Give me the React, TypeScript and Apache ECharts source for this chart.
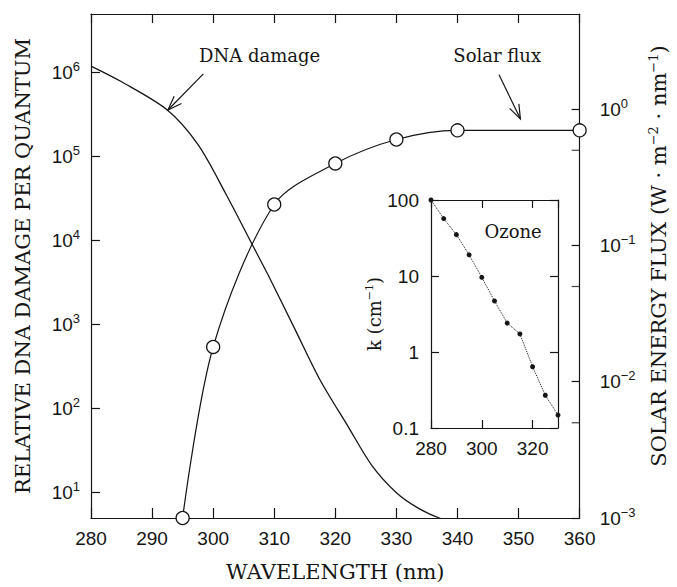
import React, { useEffect, useRef } from "react";
import * as echarts from "echarts";

// ---- data ----
const dnaWavelengths = [280, 285, 292.5, 297.5, 302, 306.5, 309, 313.5, 317.5, 322, 326, 330, 333.5, 337, 340];
const dnaDamage = [1.2e6, 7.8e5, 3.6e5, 1.4e5, 3.7e4, 8.7e3, 3.9e3, 850, 220, 63, 21, 10, 6.6, 5.0, 4.3];

const solarWavelengths = [295, 300, 310, 320, 330, 340, 360];
const solarFlux = [0.001, 0.018, 0.2, 0.4, 0.6, 0.7, 0.7];

const ozoneWavelengths = [280, 285, 290, 295, 300, 305, 310, 315, 320, 325, 330];
const ozoneK = [100, 57, 35, 19, 9.6, 4.7, 2.4, 1.73, 0.64, 0.27, 0.148];

const fluxMinorTicks = [0.5, 0.05, 0.005];

// annotation anchors (data coordinates)
const dnaLabelAt: [number, number] = [307.6, 1.6e6];
const dnaArrowFrom: [number, number] = [298.4, 9.7e5];
const dnaArrowTo: [number, number] = [292.6, 3.6e5];
const solarLabelAt: [number, number] = [346.5, 2.5];
const solarArrowFrom: [number, number] = [346.8, 1.79];
const solarArrowTo: [number, number] = [350.3, 0.85];
const ozoneLabelAt: [number, number] = [312.3, 39];

const INK = "#151515";
const SANS = "Liberation Sans";
const SERIF = "DejaVu Serif";

const zip = (xs: number[], ys: number[]) => xs.map((x, i) => [x, ys[i]]);

const supFormatter = (v: number) => {
  const e = Math.round(Math.log10(v));
  const s = e < 0 ? "\u2212" + -e : String(e);
  return `{b|10}{s|${s}}`;
};
const supRich = {
  b: { fontFamily: SANS, fontSize: 19, color: INK },
  s: { fontFamily: SANS, fontSize: 13, color: INK, padding: [0, 0, 12, 0] },
};

const lineStyle = { color: INK, width: 1.2 };

export default function App() {
  const ref = useRef<HTMLDivElement>(null);
  useEffect(() => {
    if (!ref.current) return;
    const chart = echarts.init(ref.current, undefined, { renderer: "svg" });
    const option: any = {
      animation: false,
      backgroundColor: "#fff",
      grid: [
        { left: 91, top: 14, width: 502, height: 513 },
        { left: 431, top: 200, width: 127, height: 228 },
      ],
      xAxis: [
        {
          gridIndex: 0, type: "value", position: "bottom", min: 280, max: 360, interval: 10,
          axisLine: { lineStyle }, axisTick: { inside: true, length: 10, lineStyle },
          axisLabel: { margin: 11, fontFamily: SANS, fontSize: 19, color: INK },
          splitLine: { show: false },
          name: "WAVELENGTH (nm)", nameLocation: "middle", nameGap: 43,
          nameTextStyle: { fontFamily: SERIF, fontSize: 21, color: INK },
        },
        {
          gridIndex: 0, type: "value", position: "top", min: 280, max: 360, interval: 10,
          axisLine: { lineStyle }, axisTick: { inside: true, length: 9, lineStyle },
          axisLabel: { show: false }, splitLine: { show: false },
        },
        {
          gridIndex: 1, type: "value", position: "bottom", min: 280, max: 330, interval: 20,
          axisLine: { lineStyle }, axisTick: { inside: true, length: 8, lineStyle },
          axisLabel: { margin: 11, fontFamily: SANS, fontSize: 19, color: INK, showMaxLabel: false },
          splitLine: { show: false },
        },
        {
          gridIndex: 1, type: "value", position: "top", min: 280, max: 330, interval: 20,
          axisLine: { lineStyle }, axisTick: { inside: true, length: 8, lineStyle },
          axisLabel: { show: false }, splitLine: { show: false },
        },
      ],
      yAxis: [
        {
          gridIndex: 0, type: "log", logBase: 10, position: "left", min: 5, max: 5e6,
          axisLine: { show: true, lineStyle }, axisTick: { inside: true, length: 9, lineStyle },
          axisLabel: {
            margin: 11, showMinLabel: false, showMaxLabel: false,
            formatter: supFormatter, rich: supRich,
          },
          splitLine: { show: false },
          name: "RELATIVE DNA DAMAGE PER QUANTUM", nameLocation: "middle", nameGap: 58,
          nameTextStyle: { fontFamily: SERIF, fontSize: 21, color: INK },
        },
        {
          gridIndex: 0, type: "log", logBase: 10, position: "right", min: 0.001, max: 5,
          axisLine: { show: true, lineStyle }, axisTick: { inside: true, length: 8, lineStyle },
          axisLabel: {
            margin: 20, showMaxLabel: false,
            formatter: supFormatter, rich: supRich,
          },
          splitLine: { show: false },
          name: "SOLAR ENERGY FLUX (W \u00b7 m{s|\u22122} \u00b7 nm{s|\u22121})",
          nameLocation: "middle", nameGap: 52,
          nameTextStyle: {
            fontFamily: SERIF, fontSize: 21, color: INK, padding: [0, 0, 0, 20],
            rich: { s: { fontFamily: SERIF, fontSize: 13, color: INK, padding: [0, 0, 11, 0] } },
          },
        },
        {
          gridIndex: 1, type: "log", logBase: 10, position: "left", min: 0.1, max: 100,
          axisLine: { show: true, lineStyle }, axisTick: { inside: true, length: 8, lineStyle },
          axisLabel: {
            margin: 12, fontFamily: SANS, fontSize: 19, color: INK,
            formatter: (v: number) => {
              const e = Math.round(Math.log10(v));
              return e < 0 ? "0.1" : String(Math.pow(10, e));
            },
          },
          splitLine: { show: false },
          name: "k (cm{s|\u22121})", nameLocation: "middle", nameGap: 25,
          nameTextStyle: {
            fontFamily: SERIF, fontSize: 18, color: INK,
            rich: { s: { fontFamily: SERIF, fontSize: 11, color: INK, padding: [0, 0, 10, 0] } },
          },
        },
        {
          gridIndex: 1, type: "log", logBase: 10, position: "right", min: 0.1, max: 100,
          axisLine: { show: true, lineStyle }, axisTick: { inside: true, length: 8, lineStyle },
          axisLabel: { show: false }, splitLine: { show: false },
        },
      ],
      series: [
        {
          name: "DNA damage", type: "line", xAxisIndex: 0, yAxisIndex: 0,
          data: zip(dnaWavelengths, dnaDamage), smooth: 0.3, showSymbol: false,
          lineStyle: { color: INK, width: 1.3 }, silent: true,
        },
        {
          name: "Solar flux", type: "line", xAxisIndex: 0, yAxisIndex: 1,
          data: zip(solarWavelengths, solarFlux), smooth: 0.3,
          symbol: "circle", symbolSize: 13,
          itemStyle: { color: "#fff", borderColor: INK, borderWidth: 1.3 },
          lineStyle: { color: INK, width: 1.2 }, silent: true,
        },
        {
          name: "flux minor ticks", type: "scatter", xAxisIndex: 0, yAxisIndex: 1,
          data: fluxMinorTicks.map((v) => [360, v]),
          symbol: "rect", symbolSize: [8, 1.2], symbolOffset: [-4, 0],
          itemStyle: { color: INK }, silent: true,
        },
        {
          name: "Ozone", type: "line", xAxisIndex: 2, yAxisIndex: 2,
          data: zip(ozoneWavelengths, ozoneK), symbol: "circle", symbolSize: 5,
          itemStyle: { color: INK }, lineStyle: { color: INK, width: 1, type: "dotted" },
          silent: true,
        },
      ],
    };
    chart.setOption(option);

    const px = (xi: number, yi: number, pt: [number, number]) =>
      chart.convertToPixel({ xAxisIndex: xi, yAxisIndex: yi } as any, pt) as number[];

    const arrow = (from: number[], to: number[]) => {
      const dx = to[0] - from[0];
      const dy = to[1] - from[1];
      const len = Math.hypot(dx, dy);
      const ux = dx / len, uy = dy / len;
      const L = 15, a = (20 * Math.PI) / 180;
      const rot = (s: number) => [
        to[0] - L * (ux * Math.cos(s * a) - uy * Math.sin(s * a)),
        to[1] - L * (ux * Math.sin(s * a) + uy * Math.cos(s * a)),
      ];
      return [
        { type: "line", shape: { x1: from[0], y1: from[1], x2: to[0], y2: to[1] }, style: { stroke: INK, lineWidth: 1.2 } },
        { type: "polyline", shape: { points: [rot(1), to, rot(-1)] }, style: { stroke: INK, lineWidth: 1.2, fill: null } },
      ];
    };
    const label = (p: number[], text: string) => ({
      type: "text", x: p[0], y: p[1],
      style: { text, fontFamily: SERIF, fontSize: 18, fill: INK, align: "center", verticalAlign: "middle" },
    });

    chart.setOption({
      graphic: [
        label(px(0, 0, dnaLabelAt), "DNA damage"),
        ...arrow(px(0, 0, dnaArrowFrom), px(0, 0, dnaArrowTo)),
        label(px(0, 1, solarLabelAt), "Solar flux"),
        ...arrow(px(0, 1, solarArrowFrom), px(0, 1, solarArrowTo)),
        label(px(2, 2, ozoneLabelAt), "Ozone"),
      ],
    });

    return () => chart.dispose();
  }, []);
  return (
    <div
      ref={ref}
      style={{ position: "fixed", left: 0, top: 0, width: 677, height: 587, background: "#fff" }}
    />
  );
}
